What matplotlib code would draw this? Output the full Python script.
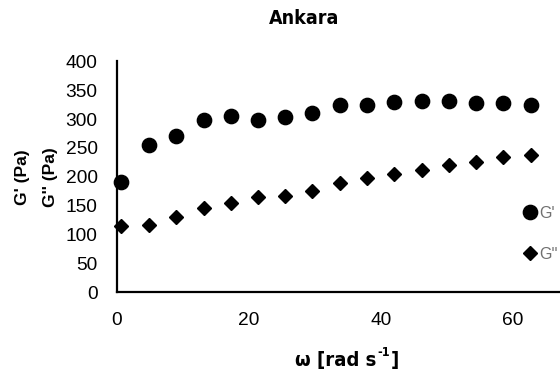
import matplotlib.pyplot as plt

# angular frequency (rad/s) and moduli (Pa)
omega = [0.63, 4.8, 8.9, 13.1, 17.2, 21.4, 25.5, 29.6, 33.8, 37.9, 42.0, 46.2, 50.3, 54.4, 58.5, 62.7]
g_storage = [191, 255, 270, 299, 306, 299, 303, 311, 325, 325, 329, 332, 332, 327, 327, 325]
g_loss = [115, 116, 131, 146, 155, 165, 167, 176, 189, 197, 204, 211, 220, 225, 234, 237]

yticks = [0, 50, 100, 150, 200, 250, 300, 350, 400]
xticks = [0, 20, 40, 60]

plt.rcParams['font.family'] = ['Liberation Sans', 'DejaVu Sans']
narrow = dict(family=['DejaVu Sans'], fontstretch='condensed', fontweight='bold')

fig = plt.figure(figsize=(5.6, 3.76), dpi=100)
ax = fig.add_axes([0.209, 0.223, 0.791, 0.614])

ax.plot(omega, g_storage, 'o', color='black', markersize=10.3, label="G'", clip_on=False)
ax.plot(omega, g_loss, 'D', color='black', markersize=7, label="G''", clip_on=False)

ax.set_xlim(0, 67.1)
ax.set_ylim(0, 400)
ax.set_xticks(xticks)
ax.set_yticks(yticks)
ax.tick_params(length=0, labelsize=13.8, pad=14)
for s in ['top', 'right']:
    ax.spines[s].set_visible(False)
for s in ['left', 'bottom']:
    ax.spines[s].set_linewidth(1.6)

fig.text(0.543, 0.951, 'Ankara', ha='center', va='center', fontsize=14, **narrow)
fig.text(0.04, 0.53, "G' (Pa)", rotation=90, ha='center', va='center',
         fontsize=12.5, fontweight='bold')
fig.text(0.09, 0.53, "G'' (Pa)", rotation=90, ha='center', va='center',
         fontsize=12.5, fontweight='bold')

# x label built from pieces so the superscript keeps a short hyphen
r = fig.canvas.get_renderer()
x0, yb = 295 / 560, 1 - 366 / 376
t1 = fig.text(x0, yb, 'ω [rad s', ha='left', va='baseline', fontsize=14.5, **narrow)
w1 = t1.get_window_extent(r).width / 560
t2 = fig.text(x0 + w1 + 0.002, yb + 0.027, '-1', ha='left', va='baseline', fontsize=9, **narrow)
w2 = t2.get_window_extent(r).width / 560
fig.text(x0 + w1 + w2 + 0.004, yb, ']', ha='left', va='baseline', fontsize=14.5, **narrow)

leg = ax.legend(loc='center left', bbox_to_anchor=(0.9, 0.253), frameon=False,
                handlelength=0.8, handletextpad=0.15, labelspacing=1.6,
                fontsize=11.5, borderpad=0)
for t in leg.get_texts():
    t.set_color('#707070')

fig.savefig('out.png', dpi=100)
